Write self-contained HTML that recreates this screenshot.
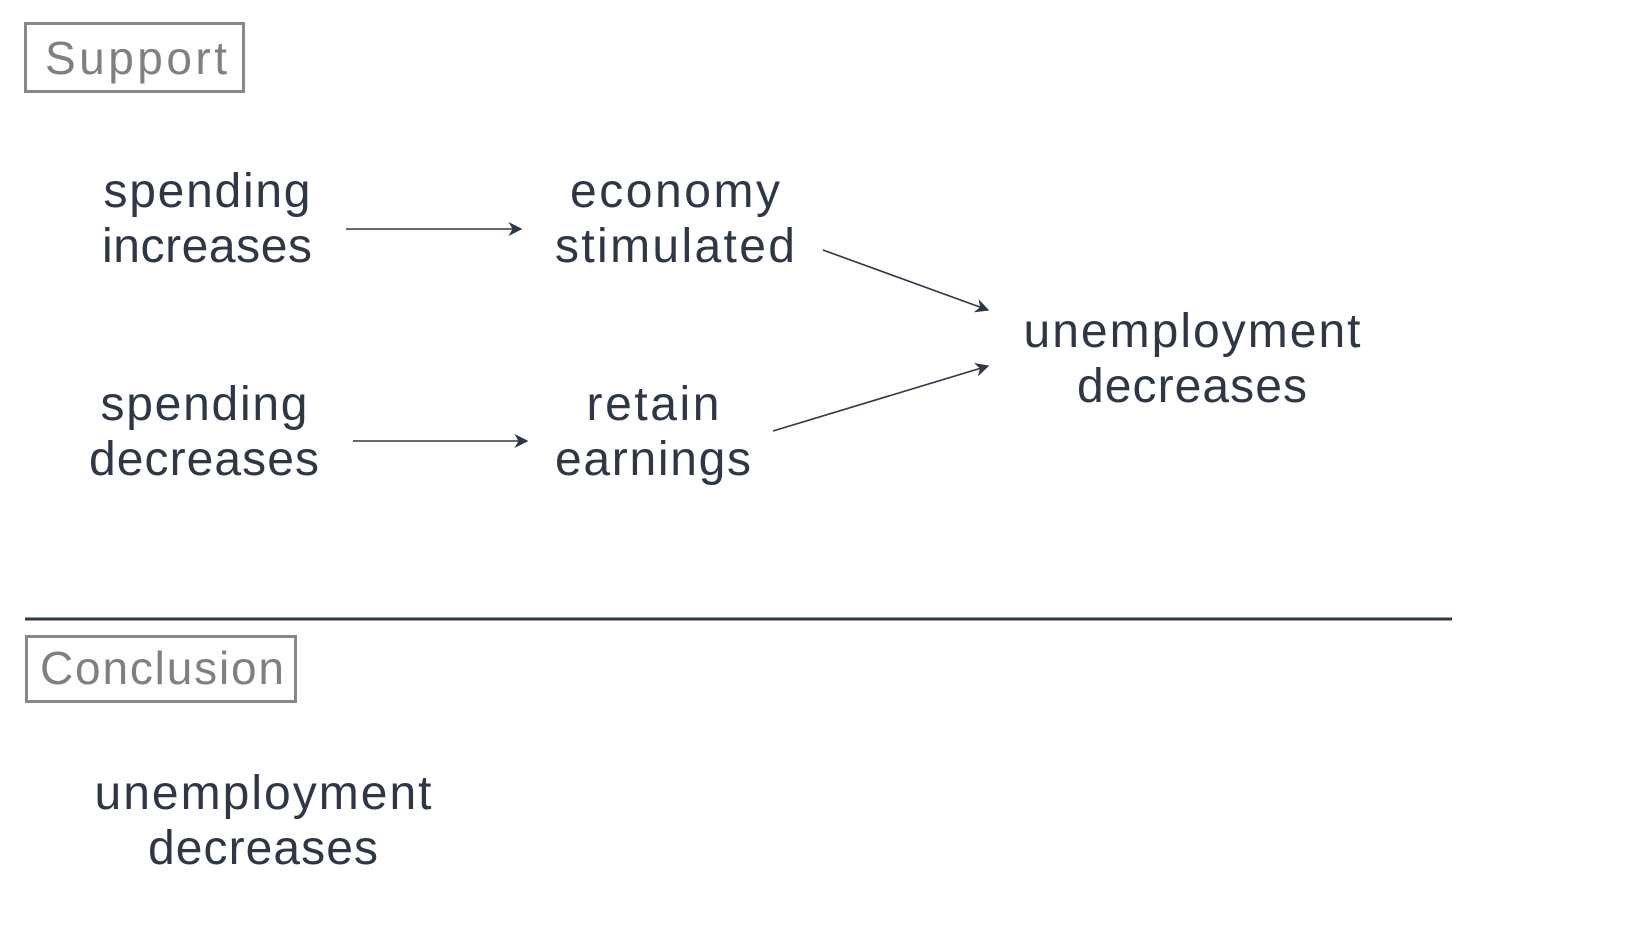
<!DOCTYPE html>
<html><head><meta charset="utf-8"><style>
html,body{margin:0;padding:0;background:#fff;}
svg{display:block;}
text{font-family:"Liberation Sans",sans-serif;}
</style></head><body>
<svg width="1640" height="952" viewBox="0 0 1640 952" xmlns="http://www.w3.org/2000/svg">
<defs>
<marker id="a" viewBox="0 0 10 10" refX="9" refY="5" markerWidth="14" markerHeight="14" markerUnits="userSpaceOnUse" orient="auto">
<path d="M0,0 L10,5 L0,10 L3,5 Z" fill="#2f3747"/>
</marker>
</defs>
<rect x="25.5" y="23.5" width="218" height="68" fill="none" stroke="#888" stroke-width="3"/>
<text x="45" y="74" font-size="46" fill="#808080" textLength="182">Support</text>
<g fill="#2f3747" font-size="48" text-anchor="middle">
<text x="207" y="207" textLength="207">spending</text>
<text x="207" y="262" textLength="210">increases</text>
<text x="675" y="207" textLength="210">economy</text>
<text x="675" y="262" textLength="240">stimulated</text>
<text x="204" y="420" textLength="207">spending</text>
<text x="204" y="475" textLength="230">decreases</text>
<text x="653" y="420" textLength="133">retain</text>
<text x="653" y="475" textLength="196">earnings</text>
<text x="1192" y="347" textLength="337">unemployment</text>
<text x="1192" y="402" textLength="230">decreases</text>
<text x="263" y="809" textLength="337">unemployment</text>
<text x="263" y="864" textLength="230">decreases</text>
</g>
<g stroke="#2f3747" stroke-width="1.6" fill="none" marker-end="url(#a)">
<line x1="346" y1="229" x2="521" y2="229"/>
<line x1="353" y1="441" x2="527" y2="441"/>
<line x1="823" y1="250" x2="988" y2="310"/>
<line x1="773" y1="431" x2="988" y2="366"/>
</g>
<line x1="25" y1="619" x2="1452" y2="619" stroke="#2f3747" stroke-width="3"/>
<rect x="26.5" y="636.5" width="269" height="65" fill="none" stroke="#888" stroke-width="3"/>
<text x="40" y="684" font-size="46" fill="#808080" textLength="244">Conclusion</text>
</svg>
</body></html>
